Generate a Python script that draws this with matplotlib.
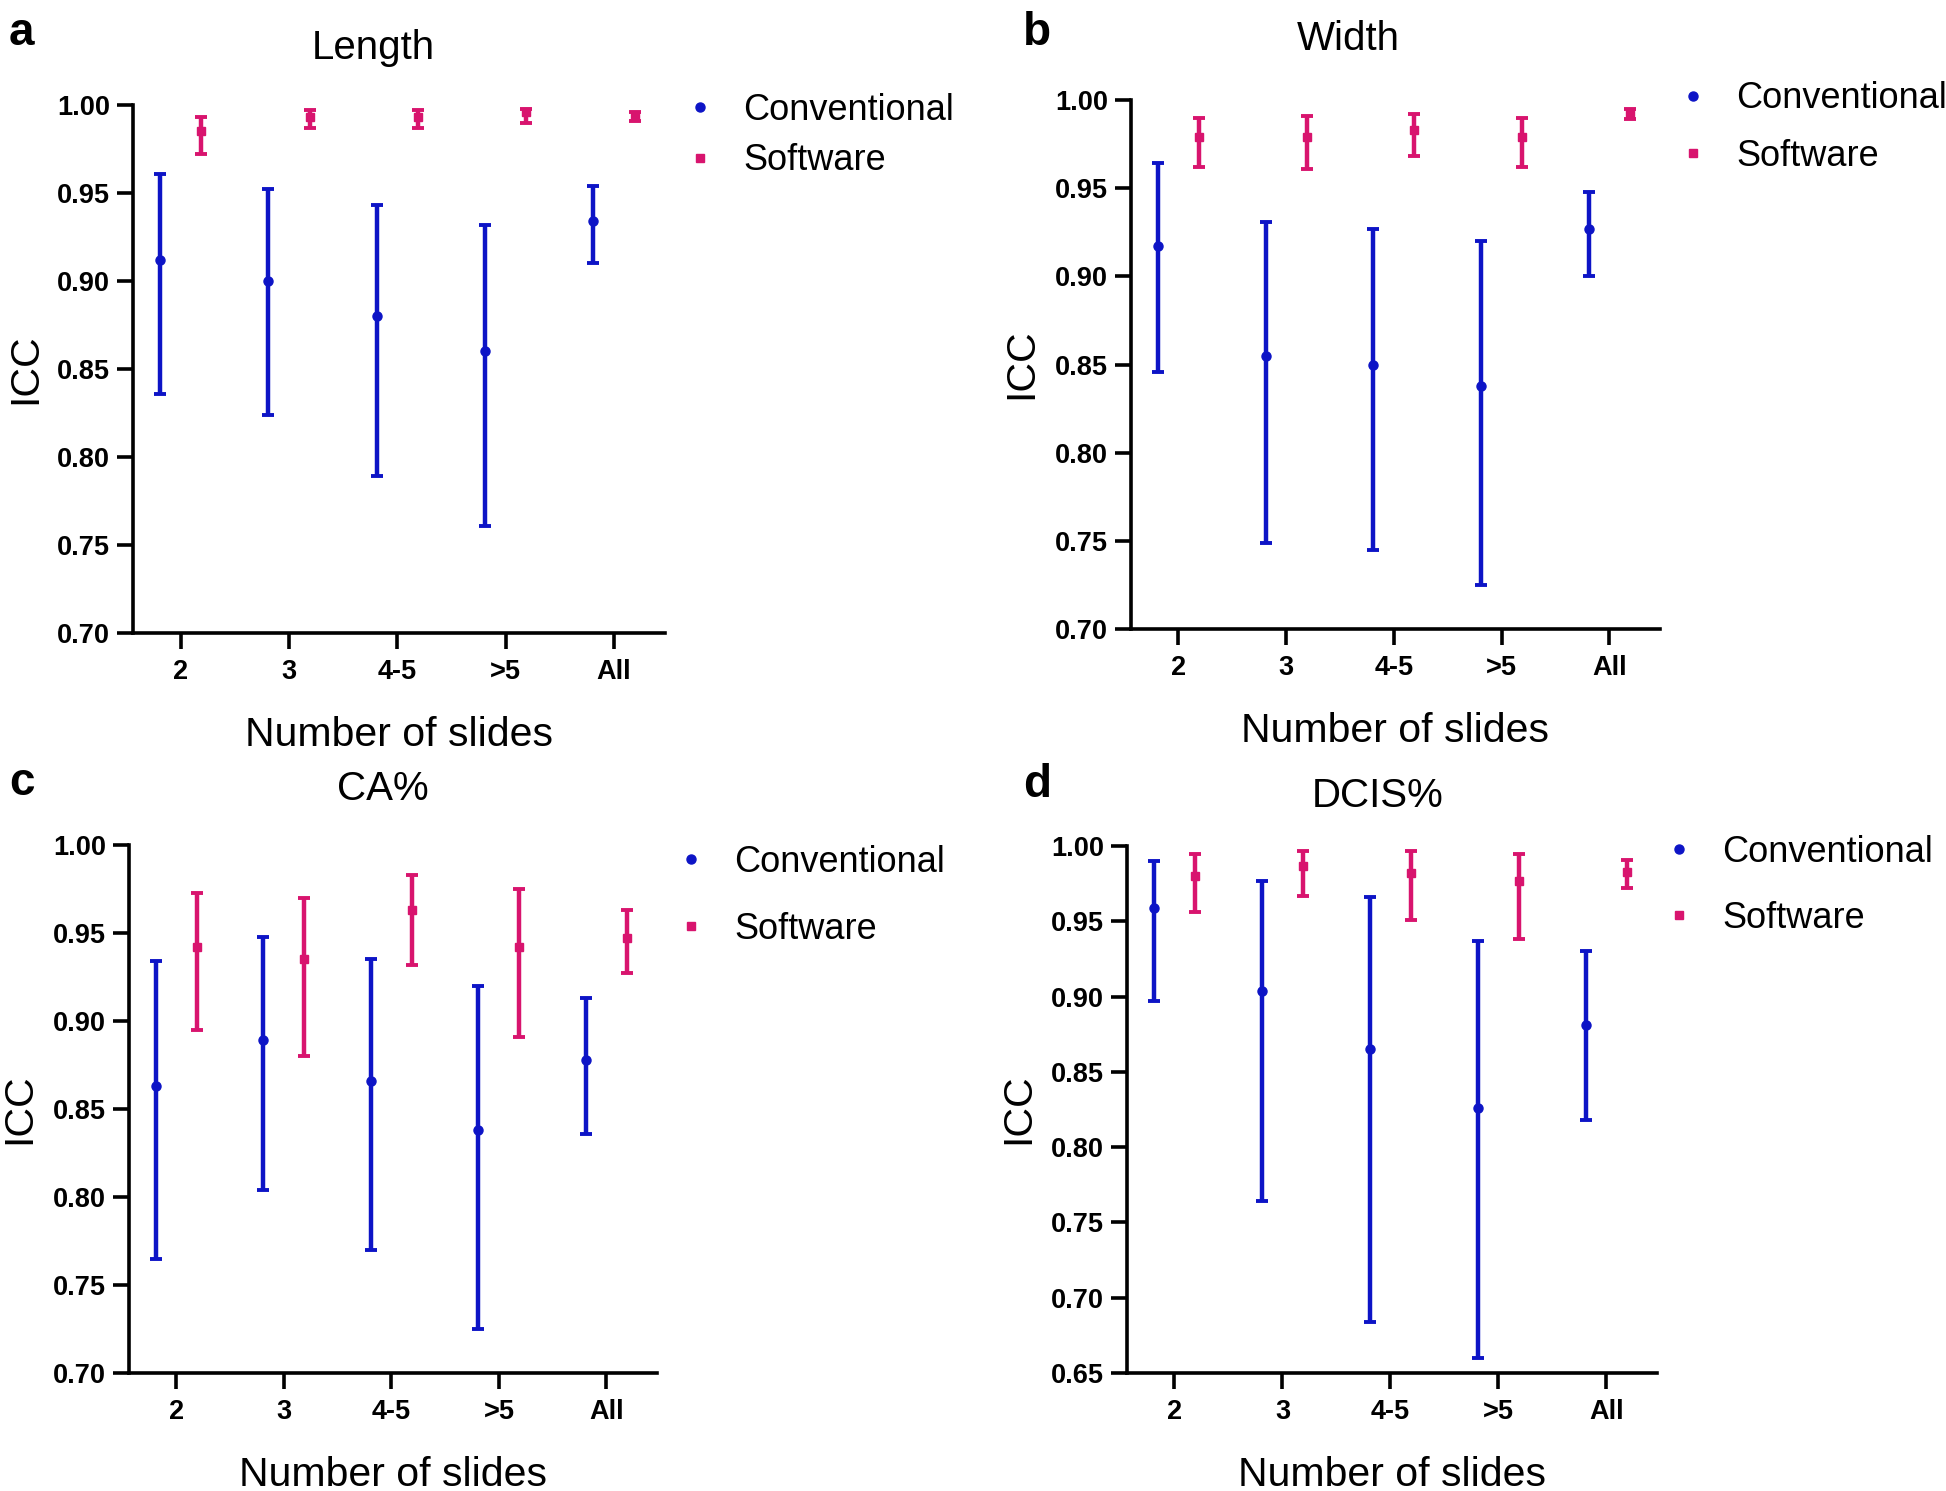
import matplotlib
matplotlib.use("Agg")
import matplotlib.pyplot as plt
from matplotlib.lines import Line2D
import numpy as np

plt.rcParams['font.family'] = ['Liberation Sans', 'DejaVu Sans']

categories = ["2", "3", "4-5", ">5", "All"]

# Panel a - Length
len_conv = [0.912, 0.900, 0.880, 0.860, 0.934]
len_conv_lo = [0.836, 0.824, 0.789, 0.761, 0.910]
len_conv_hi = [0.961, 0.952, 0.943, 0.932, 0.954]
len_soft = [0.985, 0.993, 0.993, 0.996, 0.994]
len_soft_lo = [0.972, 0.987, 0.987, 0.990, 0.991]
len_soft_hi = [0.993, 0.997, 0.997, 0.998, 0.996]

# Panel b - Width
wid_conv = [0.917, 0.855, 0.850, 0.838, 0.927]
wid_conv_lo = [0.846, 0.749, 0.745, 0.725, 0.900]
wid_conv_hi = [0.964, 0.931, 0.927, 0.920, 0.948]
wid_soft = [0.979, 0.979, 0.983, 0.979, 0.992]
wid_soft_lo = [0.962, 0.961, 0.968, 0.962, 0.989]
wid_soft_hi = [0.990, 0.991, 0.992, 0.990, 0.995]

# Panel c - CA%
ca_conv = [0.863, 0.889, 0.866, 0.838, 0.878]
ca_conv_lo = [0.765, 0.804, 0.770, 0.725, 0.836]
ca_conv_hi = [0.934, 0.948, 0.935, 0.920, 0.913]
ca_soft = [0.942, 0.935, 0.963, 0.942, 0.947]
ca_soft_lo = [0.895, 0.880, 0.932, 0.891, 0.927]
ca_soft_hi = [0.973, 0.970, 0.983, 0.975, 0.963]

# Panel d - DCIS%
dcis_conv = [0.959, 0.904, 0.865, 0.826, 0.881]
dcis_conv_lo = [0.897, 0.764, 0.684, 0.660, 0.818]
dcis_conv_hi = [0.990, 0.977, 0.966, 0.937, 0.930]
dcis_soft = [0.980, 0.987, 0.982, 0.977, 0.983]
dcis_soft_lo = [0.956, 0.967, 0.951, 0.938, 0.972]
dcis_soft_hi = [0.995, 0.997, 0.997, 0.995, 0.991]

series_names = ["Conventional", "Software"]
titles = ["Length", "Width", "CA%", "DCIS%"]
letters = ["a", "b", "c", "d"]

BLUE = "#0D14C6"
PINK = "#D8146E"

W, H = 1946, 1491
fig = plt.figure(figsize=(W / 100, H / 100), dpi=100)


def fx(px):
    return px / W


def fy(py):
    return 1 - py / H


panels = [
    dict(rect=(133, 105, 665, 633), ylim=(0.70, 1.00), yt=np.arange(0.70, 1.001, 0.05),
         conv=(len_conv, len_conv_lo, len_conv_hi), soft=(len_soft, len_soft_lo, len_soft_hi),
         title=(373, 59), letter=(9, 45), xlabel=(399, 746), ylabel=(25, 369),
         leg=(700, 105.5), legsp=0.44),
    dict(rect=(1131, 100, 1660, 629), ylim=(0.70, 1.00), yt=np.arange(0.70, 1.001, 0.05),
         conv=(wid_conv, wid_conv_lo, wid_conv_hi), soft=(wid_soft, wid_soft_lo, wid_soft_hi),
         title=(1348, 50), letter=(1023, 45), xlabel=(1395, 742), ylabel=(1021, 364),
         leg=(1693, 94.5), legsp=0.61),
    dict(rect=(129, 845, 657, 1373), ylim=(0.70, 1.00), yt=np.arange(0.70, 1.001, 0.05),
         conv=(ca_conv, ca_conv_lo, ca_conv_hi), soft=(ca_soft, ca_soft_lo, ca_soft_hi),
         title=(383, 800), letter=(9, 795), xlabel=(393, 1486), ylabel=(19, 1109),
         leg=(691, 857.6), legsp=0.90),
    dict(rect=(1127, 846, 1657, 1373), ylim=(0.65, 1.00), yt=np.arange(0.65, 1.001, 0.05),
         conv=(dcis_conv, dcis_conv_lo, dcis_conv_hi), soft=(dcis_soft, dcis_soft_lo, dcis_soft_hi),
         title=(1378, 807), letter=(1023, 797), xlabel=(1392, 1486), ylabel=(1018, 1109),
         leg=(1679, 848), legsp=0.86),
]

x = np.arange(len(categories))
off = 0.19

for i, p in enumerate(panels):
    l, t, r, b = p["rect"]
    ax = fig.add_axes([fx(l), fy(b), fx(r) - fx(l), fy(t) - fy(b)])
    ax.set_xlim(-0.44, 4.47)
    ax.set_ylim(*p["ylim"])
    for key, dx, col, mk, ms in (("conv", -off, BLUE, "o", 6.5), ("soft", off, PINK, "s", 5.5)):
        v, lo, hi = (np.array(a) for a in p[key])
        ax.errorbar(x + dx, v, yerr=[v - lo, hi - v], fmt=mk, color=col, ecolor=col,
                    ms=ms, elinewidth=3.2, capsize=4.5, capthick=2.8, clip_on=False, zorder=3)
    for s in ("top", "right"):
        ax.spines[s].set_visible(False)
    for s in ("left", "bottom"):
        ax.spines[s].set_linewidth(2.6)
    ax.set_xticks(x)
    ax.set_xticklabels(categories)
    ax.set_yticks(p["yt"])
    ax.set_yticklabels([f"{v:.2f}" for v in p["yt"]])
    ax.tick_params(axis="both", length=11.5, width=2.6, labelsize=19.5, pad=5)
    ax.tick_params(axis="x", pad=7)
    for lab in ax.get_xticklabels() + ax.get_yticklabels():
        lab.set_fontweight("bold")

    fig.text(fx(p["title"][0]), fy(p["title"][1]), titles[i], ha="center", va="baseline", fontsize=29)
    fig.text(fx(p["letter"][0]), fy(p["letter"][1]), letters[i], ha="left", va="baseline",
             fontsize=33, fontweight="bold")
    fig.text(fx(p["xlabel"][0]), fy(p["xlabel"][1]), "Number of slides", ha="center", va="baseline",
             fontsize=29.5)
    fig.text(fx(p["ylabel"][0]), fy(p["ylabel"][1]), "ICC", ha="center", va="center",
             rotation=90, fontsize=29.5)

    handles = [Line2D([], [], ls="none", marker="o", color=BLUE, ms=6.5),
               Line2D([], [], ls="none", marker="s", color=PINK, ms=5.5)]
    mx, my = p["leg"]
    fs_px = 26 * 100 / 72
    ax.legend(handles, series_names, loc="upper left",
              bbox_to_anchor=(fx(mx - 0.4 * fs_px), fy(my - 13)), bbox_transform=fig.transFigure,
              frameon=False, borderpad=0, borderaxespad=0, handlelength=0.8, handletextpad=0.8,
              labelspacing=p["legsp"], fontsize=26)

fig.savefig("out.png", dpi=100)
